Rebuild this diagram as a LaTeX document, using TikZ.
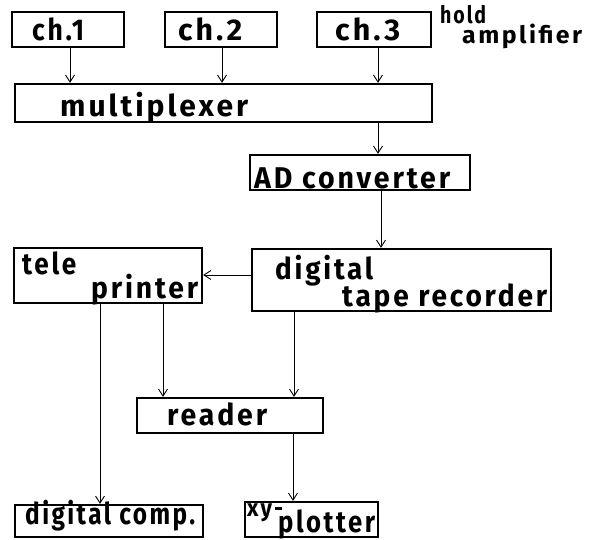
\documentclass[tikz,border=0pt]{standalone}
\usepackage{fontspec}
\usepackage{graphicx}
\usetikzlibrary{arrows.meta}
\newfontfamily\lblfont{Fira Sans}[LetterSpace=10]
\newlength\fitlen
\newcommand\fitw[2]{\settowidth\fitlen{#2}\pgfmathsetmacro\fitf{#1/\fitlen}\scalebox{\fitf}[1]{#2}}
\tikzset{
  box/.style={draw, line width=2.3pt, inner sep=0pt},
  txt/.style={font=\lblfont\bfseries\fontsize{30}{30}\selectfont, inner sep=0pt, anchor=base west},
  smalltxt/.style={font=\lblfont\bfseries\fontsize{24}{24}\selectfont, inner sep=0pt, anchor=base west},
  arr/.style={line width=0.9pt, -{Straight Barb[length=7pt,width=9pt]}},
}
\begin{document}
\begin{tikzpicture}[x=1pt,y=-1pt]
\useasboundingbox (0,0) rectangle (599,540);
% boxes
\node[box, minimum width=112pt, minimum height=35pt] (ch1) at (68,29.5) {};
\node[box, minimum width=112pt, minimum height=35pt] (ch2) at (221,29.5) {};
\node[box, minimum width=114pt, minimum height=35pt] (ch3) at (374,29.5) {};
\node[box, minimum width=417pt, minimum height=38pt] (mux) at (223.5,103) {};
\node[box, minimum width=220pt, minimum height=35pt] (adc) at (360,172.5) {};
\node[box, minimum width=299pt, minimum height=62pt] (dtr) at (401.5,280) {};
\node[box, minimum width=188pt, minimum height=55pt] (tp) at (108,275.5) {};
\node[box, minimum width=186pt, minimum height=35pt] (rd) at (230,415.5) {};
\node[box, minimum width=188pt, minimum height=32pt] (dc) at (109,521) {};
\node[box, minimum width=133pt, minimum height=35pt] (xy) at (311.5,519.5) {};
% texts
\node[txt] (t1) at (32,41) {\fitw{52pt}{ch.1}};
\node[txt] (t2) at (178,41) {\fitw{64pt}{ch.2}};
\node[txt] (t3) at (335,41) {\fitw{65pt}{ch.3}};
\node[smalltxt] (th) at (440,24) {\fitw{46pt}{hold}};
\node[smalltxt] (ta) at (462,44) {\fitw{120pt}{amplifier}};
\node[txt] (tm) at (60,117) {\fitw{188pt}{multiplexer}};
\node[txt] (tadc) at (254,189) {\fitw{196pt}{AD converter}};
\node[txt] (ttele) at (22,274) {\fitw{54pt}{tele}};
\node[txt] (tpr) at (91,298) {\fitw{107pt}{printer}};
\node[txt] (tdig) at (275,279) {\fitw{98pt}{digital}};
\node[txt] (ttape) at (342,306) {\fitw{205pt}{tape recorder}};
\node[txt] (trd) at (167,425) {\fitw{100pt}{reader}};
\node[txt] (tdc) at (25,524) {\fitw{170pt}{digital comp.}};
\node[smalltxt] (txy) at (247,516) {\fitw{36pt}{xy-}};
\node[txt] (tpl) at (278,532) {\fitw{97pt}{plotter}};
% connectors
\draw[arr] ([xshift=2pt]ch1.south) -- ([xshift=2pt]ch1.south |- mux.north);
\draw[arr] ([xshift=1pt]ch2.south) -- ([xshift=1pt]ch2.south |- mux.north);
\draw[arr] ([xshift=4pt]ch3.south) -- ([xshift=4pt]ch3.south |- mux.north);
\draw[arr] ([xshift=18pt]adc.north |- mux.south) -- ([xshift=18pt]adc.north);
\draw[arr] ([xshift=21pt]adc.south) -- ([xshift=21pt]adc.south |- dtr.north);
\draw[arr] ([yshift=5pt]dtr.west) -- ([yshift=5pt]dtr.west -| tp.east);
\draw[arr] ([xshift=-8pt]tp.south) -- ([xshift=-8pt]tp.south |- dc.north);
\draw[arr] ([xshift=55pt]tp.south) -- ([xshift=55pt]tp.south |- rd.north);
\draw[arr] ([xshift=-107.5pt]dtr.south) -- ([xshift=-107.5pt]dtr.south |- rd.north);
\draw[arr] ([xshift=63pt]rd.south) -- ([xshift=63pt]rd.south |- xy.north);
\end{tikzpicture}
\end{document}
